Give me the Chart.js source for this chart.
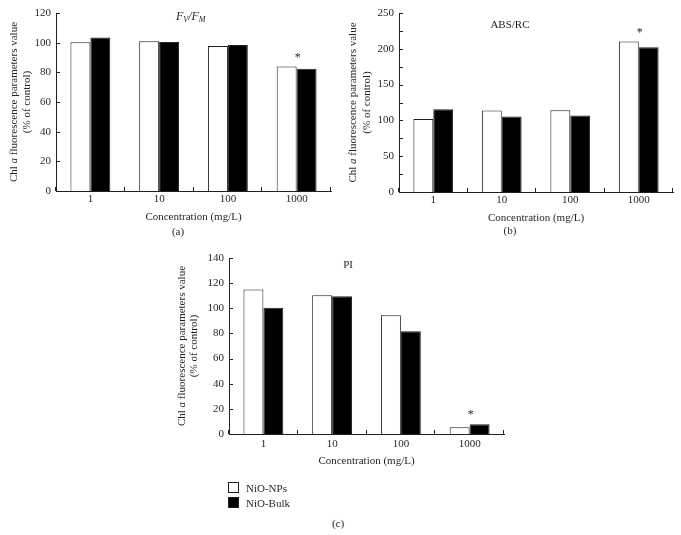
<!DOCTYPE html>
<html>
<head>
<meta charset="utf-8">
<script src="https://cdn.jsdelivr.net/npm/chart.js@4"></script>
<style>
    body { margin: 0; background: #fff; width: 681px; height: 535px; position: relative; overflow: hidden;
           font-family: "Liberation Serif", serif; color: #231f20; }
    canvas { position: absolute; }
    .cap { position: absolute; font-size: 11px; transform: translate(-50%, -50%); }
    #legend { position: absolute; left: 228px; top: 481px; font-size: 11px; line-height: 15px; }
    #legend span.box { display: inline-block; width: 9px; height: 9px; border: 1px solid #231f20;
                       margin-right: 7px; vertical-align: -1px; }
</style>
</head>
<body>
<canvas id="chartA" width="340" height="240" style="left:0;top:0"></canvas>
<canvas id="chartB" width="341" height="240" style="left:340px;top:0"></canvas>
<canvas id="chartC" width="360" height="240" style="left:160px;top:245px"></canvas>
<div class="cap" style="left:178px;top:231px">(a)</div>
<div class="cap" style="left:510px;top:230px">(b)</div>
<div class="cap" style="left:338px;top:523px">(c)</div>
<div id="legend"></div>

<script>
// ================= DATA =================
const concentrations = ["1", "10", "100", "1000"];
const seriesNames = ["NiO-NPs", "NiO-Bulk"];

const fvfmNPs  = [100.2, 100.9, 97.7, 84];
const fvfmBulk = [103.5, 100.4, 98.4, 82.5];

const absNPs  = [102, 113.8, 114.3, 210.3];
const absBulk = [115.7, 105.4, 106.8, 202];

const piNPs  = [115, 110.4, 94.5, 5.3];
const piBulk = [100.4, 109.6, 81.8, 7.7];

// asterisk over significant concentrations
const significant = [false, false, false, true];

// ================= COMMON =================
const ink = "#231f20";
const fills = ["#ffffff", "#000000"];
const serif = "'Liberation Serif', serif";

function drawRich(ctx, parts, cx, cy) {
    let total = 0;
    parts.forEach(p => {
        ctx.font = (p.italic ? "italic " : "") + p.size + "px " + serif;
        p.w = ctx.measureText(p.t).width;
        total += p.w;
    });
    let x = cx - total / 2;
    ctx.textAlign = "left";
    ctx.textBaseline = "middle";
    parts.forEach(p => {
        ctx.font = (p.italic ? "italic " : "") + p.size + "px " + serif;
        ctx.fillText(p.t, x, cy + (p.dy || 0));
        x += p.w;
    });
}

const yTitle1 = [
    { t: "Chl ", size: 11 },
    { t: "a", size: 11, italic: true },
    { t: " fluorescence parameters value", size: 11 }
];
const yTitle2 = [{ t: "(% of control)", size: 11 }];

const decorations = {
    id: "decorations",
    afterDraw(chart, args, opts) {
        const { ctx, chartArea: a, scales: { x, y } } = chart;
        ctx.save();
        ctx.strokeStyle = ink;
        ctx.lineWidth = 1;
        ctx.beginPath();
        y.ticks.forEach((t, i) => {
            const py = Math.round(y.getPixelForTick(i)) + 0.5;
            ctx.moveTo(a.left, py);
            ctx.lineTo(a.left + 4, py);
        });
        for (let i = 0; i <= concentrations.length; i++) {
            const px = Math.round(x.getPixelForValue(i - 0.5)) - 0.5;
            ctx.moveTo(px, a.bottom);
            ctx.lineTo(px, a.bottom - 4);
        }
        ctx.stroke();

        ctx.fillStyle = ink;
        // significance stars
        significant.forEach((sig, i) => {
            if (!sig) return;
            const top = Math.max(...chart.data.datasets.map(d => d.data[i]));
            ctx.font = "12px " + serif;
            ctx.textAlign = "center";
            ctx.textBaseline = "middle";
            ctx.fillText("*", x.getPixelForValue(i) + 1, y.getPixelForValue(top) - 9);
        });

        // panel title
        drawRich(ctx, opts.title, a.left + opts.titleFrac * (a.right - a.left), a.top + opts.titleDy);

        // y axis title, two lines
        ctx.translate(0, (a.top + a.bottom) / 2);
        ctx.rotate(-Math.PI / 2);
        drawRich(ctx, yTitle1, 0, a.left + opts.yTitleX[0]);
        drawRich(ctx, yTitle2, 0, a.left + opts.yTitleX[1]);
        ctx.restore();
    }
};

function makePanel(id, nps, bulk, yMax, yStep, labelEvery, p) {
    return new Chart(document.getElementById(id), {
        type: "bar",
        data: {
            labels: concentrations,
            datasets: [nps, bulk].map((vals, k) => ({
                label: seriesNames[k],
                data: vals,
                backgroundColor: fills[k],
                borderColor: ink,
                borderWidth: 1,
                categoryPercentage: 0.58,
                barPercentage: 1
            }))
        },
        options: {
            responsive: false,
            animation: false,
            layout: { padding: { top: p.top, right: p.right, bottom: p.bottom, left: 0 } },
            plugins: {
                legend: { display: false },
                tooltip: { enabled: false },
                decorations: p
            },
            scales: {
                x: {
                    offset: true,
                    grid: { display: false, drawTicks: false },
                    border: { display: true, color: ink, width: 1 },
                    ticks: { color: ink, padding: p.tickPad, font: { family: serif, size: 11 } },
                    title: { display: true, text: "Concentration (mg/L)", color: ink, padding: 0,
                             font: { family: serif, size: 11 } },
                    afterFit: s => { s.height = p.xHeight; }
                },
                y: {
                    min: 0,
                    max: yMax,
                    grid: { display: false, drawTicks: false },
                    border: { display: true, color: ink, width: 1 },
                    ticks: {
                        stepSize: yStep,
                        color: ink,
                        padding: 5,
                        font: { family: serif, size: 11 },
                        callback: v => (v % labelEvery === 0 ? v : "")
                    },
                    afterFit: s => { s.width = p.yWidth; }
                }
            }
        },
        plugins: [decorations]
    });
}

// ================= (a) Fv/Fm =================
makePanel("chartA", fvfmNPs, fvfmBulk, 120, 10, 20, {
    top: 13, right: 9, bottom: 16, xHeight: 33, yWidth: 56, tickPad: 2,
    titleFrac: 0.49, titleDy: 4, yTitleX: [-42, -29],
    title: [
        { t: "F", size: 12, italic: true },
        { t: "V", size: 8, italic: true, dy: 3 },
        { t: "/", size: 12, italic: true },
        { t: "F", size: 12, italic: true },
        { t: "M", size: 8, italic: true, dy: 3 }
    ]
});

// ================= (b) ABS/RC =================
makePanel("chartB", absNPs, absBulk, 250, 25, 50, {
    top: 13, right: 8, bottom: 15, xHeight: 33, yWidth: 59, tickPad: 2,
    titleFrac: 0.405, titleDy: 12, yTitleX: [-46, -32],
    title: [{ t: "ABS/RC", size: 11 }]
});

// ================= (c) PI =================
makePanel("chartC", piNPs, piBulk, 140, 10, 20, {
    top: 13, right: 16, bottom: 17, xHeight: 34, yWidth: 69, tickPad: 4,
    titleFrac: 0.433, titleDy: 7, yTitleX: [-47, -35],
    title: [{ t: "PI", size: 11 }]
});

// ================= LEGEND =================
legend.innerHTML = seriesNames
    .map((n, k) => `<div><span class="box" style="background:${fills[k]}"></span>${n}</div>`)
    .join("");
</script>
</body>
</html>
